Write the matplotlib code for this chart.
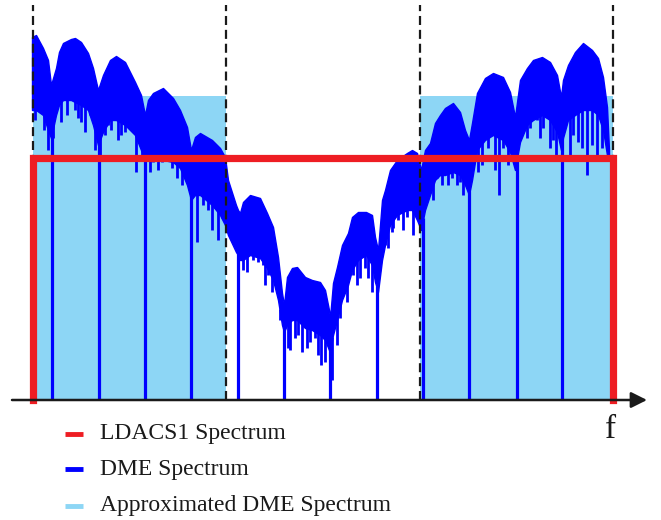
import matplotlib.pyplot as plt
import numpy as np

plt.rcParams["font.family"] = ["Liberation Serif", "DejaVu Serif"]
plt.rcParams["lines.scale_dashes"] = False

# frequency axis (arbitrary units) and levels above the f axis
band_edges = [33, 226, 420, 613]          # dashed guide lines
approx_start = [33, 420]                  # approximated DME blocks
approx_width = [193, 193]
approx_level = 304
ldacs_f = [33, 33, 613, 613]
ldacs_level = [0, 242, 242, 0]

# DME spectrum envelope (top / bottom of the dense band)
dme_f = [32, 36, 43, 48, 51, 56, 59, 63, 71, 75, 81, 88, 93, 98, 103, 110, 116, 125, 135, 141,
         145, 148, 153, 163, 173, 180, 187, 191, 195, 200, 212, 220, 225, 228, 236, 238, 240, 243,
         250, 260, 267, 273, 278, 282, 284, 287, 292, 297, 305, 312, 320, 325, 329, 330, 333, 337,
         342, 348, 352, 358, 366, 372, 375, 378, 382, 385, 390, 397, 407, 412, 417, 421, 425, 430,
         435, 440, 445, 453, 460, 465, 469, 472, 477, 485, 493, 503, 510, 515, 520, 527, 533, 542,
         550, 557, 561, 563, 568, 575, 583, 592, 598, 603, 607, 609]
dme_top = [363, 365, 352, 340, 315, 332, 348, 357, 361, 362, 358, 347, 332, 310, 325, 340, 344, 338, 318, 305,
           285, 300, 307, 312, 302, 290, 273, 250, 263, 267, 260, 252, 243, 220, 195, 190, 187, 198,
           205, 202, 187, 173, 143, 107, 95, 123, 132, 133, 123, 120, 118, 110, 90, 82, 117, 133,
           155, 167, 183, 188, 188, 185, 163, 150, 200, 210, 230, 240, 247, 250, 247, 230, 250, 257,
           277, 285, 292, 297, 288, 270, 260, 277, 307, 322, 327, 323, 308, 283, 320, 332, 340, 343,
           338, 325, 303, 320, 335, 348, 357, 350, 342, 323, 293, 250]
dme_bottom = [290, 290, 285, 270, 262, 285, 295, 300, 300, 298, 295, 290, 275, 255, 268, 280, 280, 275, 265, 250,
              240, 245, 245, 240, 238, 232, 215, 200, 205, 205, 195, 185, 175, 165, 148, 145, 140, 140,
              145, 142, 132, 120, 100, 75, 68, 75, 80, 80, 72, 70, 65, 60, 50, 48, 65, 80,
              100, 115, 130, 140, 145, 135, 118, 108, 140, 155, 175, 185, 190, 190, 180, 170, 190, 205,
              220, 225, 225, 228, 225, 215, 205, 220, 250, 260, 265, 260, 248, 230, 258, 275, 280, 285,
              280, 268, 250, 262, 280, 285, 290, 290, 285, 270, 245, 245]

# downward spikes below the band
spike_f = [35, 44, 48, 53, 61, 67, 75, 78, 81, 85, 90, 95, 100, 105, 108, 111, 118, 121, 125, 128,
           131, 136, 142, 150, 153, 158, 162, 168, 172, 177, 182, 185,
           197, 202, 203, 208, 212, 215, 218, 222, 225,
           243, 247, 253, 258, 263, 265, 268, 272, 280, 288, 290, 295, 298, 302, 307, 310, 315, 318,
           321, 325, 332, 337, 340, 347, 353, 357, 360, 365, 368, 372,
           385, 388, 392, 393, 398, 403, 407, 413, 418,
           427, 433, 437, 442, 448, 452, 457, 460, 463, 478, 482, 488, 495, 499, 503, 508,
           527, 530, 537, 540, 543, 550, 553, 556, 570, 573, 578, 582, 587, 592, 597, 602]
spike_level = [280, 270, 250, 262, 278, 285, 290, 282, 278, 268, 285, 250, 240, 265, 275, 270, 260, 265, 268, 278,
               272, 228, 240, 228, 238, 230, 238, 242, 232, 222, 215, 222,
               158, 205, 195, 190, 170, 192, 160, 182, 210,
               130, 128, 140, 138, 135, 115, 125, 108, 80, 52, 50, 62, 65, 48, 52, 58, 62, 45,
               35, 38, 20, 55, 82, 98, 125, 115, 122, 132, 122, 108,
               155, 152, 168, 172, 180, 170, 183, 165, 185,
               205, 200, 222, 215, 215, 222, 215, 218, 205, 228, 235, 252, 230, 205, 252, 235,
               262, 272, 280, 262, 272, 252, 260, 240, 245, 265, 258, 252, 225, 255, 240, 252]

# nulls that reach down to the f axis
notch_f = [51.5, 99, 145, 191, 238.3, 284, 330, 377.3, 422.7, 469, 516.7, 562.3]

legend_labels = ["LDACS1 Spectrum", "DME Spectrum", "Approximated DME Spectrum"]
legend_level = [-34, -69, -106]

red = "#ee1d23"
blue = "#0000ff"
light = "#8dd6f5"
ink = "#1a1a1a"

fig = plt.figure(figsize=(6.61, 5.2), dpi=100)
ax = fig.add_axes([0, 0, 1, 1])
ax.set_xlim(0, 661)
ax.set_ylim(-120, 400)
ax.axis("off")

ax.bar(approx_start, approx_level, width=approx_width, align="edge", color=light, zorder=1)

ax.fill_between(dme_f, dme_bottom, dme_top, color=blue, lw=1.0, zorder=2)
spike_start = np.interp(spike_f, dme_f, dme_bottom) + 4
ax.vlines(spike_f, spike_level, spike_start, color=blue, lw=2.0, zorder=2)
ax.vlines(notch_f, 0, np.interp(notch_f, dme_f, dme_bottom) + 4, color=blue, lw=2.3, zorder=2)

ax.vlines(band_edges, 0, 395, colors=ink, lw=1.6, linestyles=(0, (6.5, 3.5)), zorder=3)

ax.plot(ldacs_f, ldacs_level, color=red, lw=5.2, solid_joinstyle="miter", zorder=4)

ax.annotate("", xy=(647, 0), xytext=(12, 0),
            arrowprops=dict(arrowstyle="-|>", lw=1.8, color=ink, mutation_scale=24,
                            shrinkA=0, shrinkB=0), zorder=5)
ax.text(611, -30, "f", fontsize=24, color=ink, ha="center", va="center")

for lab, lev, c in zip(legend_labels, legend_level, [red, blue, light]):
    ax.plot([65, 83], [lev, lev], color=c, lw=3.5, solid_capstyle="butt")
    ax.text(100, lev, lab, fontsize=17, color=ink, ha="left", va="center")

fig.savefig("out.png", dpi=100)
